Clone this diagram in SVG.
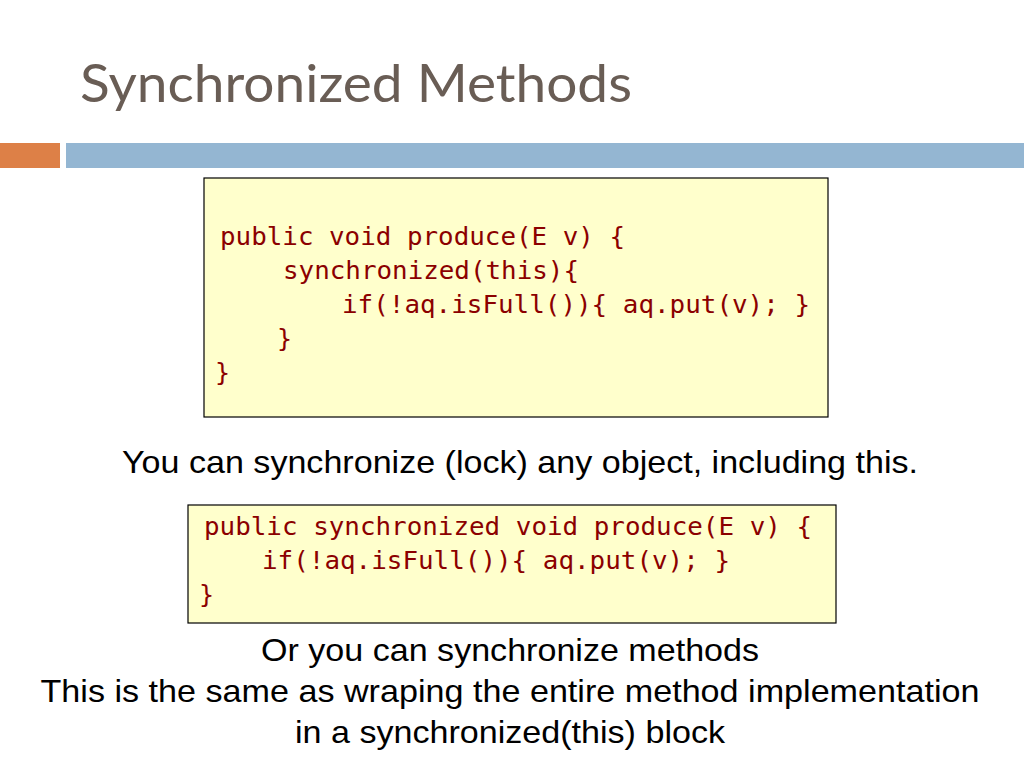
<svg xmlns="http://www.w3.org/2000/svg" width="1024" height="768" viewBox="0 0 1024 768">
<style>
.code{font-family:"DejaVu Sans Mono","Liberation Mono",monospace;font-size:25px;fill:#8B0000}
.body{font-family:"Liberation Sans",Arial,sans-serif;font-size:32px;fill:#000;text-anchor:middle}
.box{fill:#FFFFCC;stroke:#000;stroke-width:1.2}
</style>
<rect width="1024" height="768" fill="#fff"/>
<g id="title"><text x="80" y="102" font-family="Lato,'Open Sans',sans-serif" font-size="52" fill="#695D55" textLength="552" lengthAdjust="spacingAndGlyphs">Synchronized Methods</text></g>
<g id="bars"><rect x="0" y="143" width="60" height="25" fill="#DD8047"/><rect x="66" y="143" width="958" height="25" fill="#94B6D2"/></g>
<g id="code1"><rect class="box" x="204" y="178" width="624" height="239"/>
<text class="code" x="220" y="245" textLength="405" lengthAdjust="spacingAndGlyphs">public void produce(E v) {</text>
<text class="code" x="283" y="279" textLength="296" lengthAdjust="spacingAndGlyphs">synchronized(this){</text>
<text class="code" x="342" y="313" textLength="468" lengthAdjust="spacingAndGlyphs">if(!aq.isFull()){ aq.put(v); }</text>
<text class="code" x="277" y="347">}</text>
<text class="code" x="215" y="381">}</text></g>
<g id="text1"><text class="body" x="520" y="473" textLength="796" lengthAdjust="spacingAndGlyphs">You can synchronize (lock) any object, including this.</text></g>
<g id="code2"><rect class="box" x="188" y="505" width="648" height="118"/>
<text class="code" x="204" y="535" textLength="608" lengthAdjust="spacingAndGlyphs">public synchronized void produce(E v) {</text>
<text class="code" x="262" y="569" textLength="468" lengthAdjust="spacingAndGlyphs">if(!aq.isFull()){ aq.put(v); }</text>
<text class="code" x="199" y="603">}</text></g>
<g id="text2">
<text class="body" x="510" y="661" textLength="498" lengthAdjust="spacingAndGlyphs">Or you can synchronize methods</text>
<text class="body" x="510" y="702" textLength="939" lengthAdjust="spacingAndGlyphs">This is the same as wraping the entire method implementation</text>
<text class="body" x="510" y="743" textLength="430" lengthAdjust="spacingAndGlyphs">in a synchronized(this) block</text></g>
</svg>
